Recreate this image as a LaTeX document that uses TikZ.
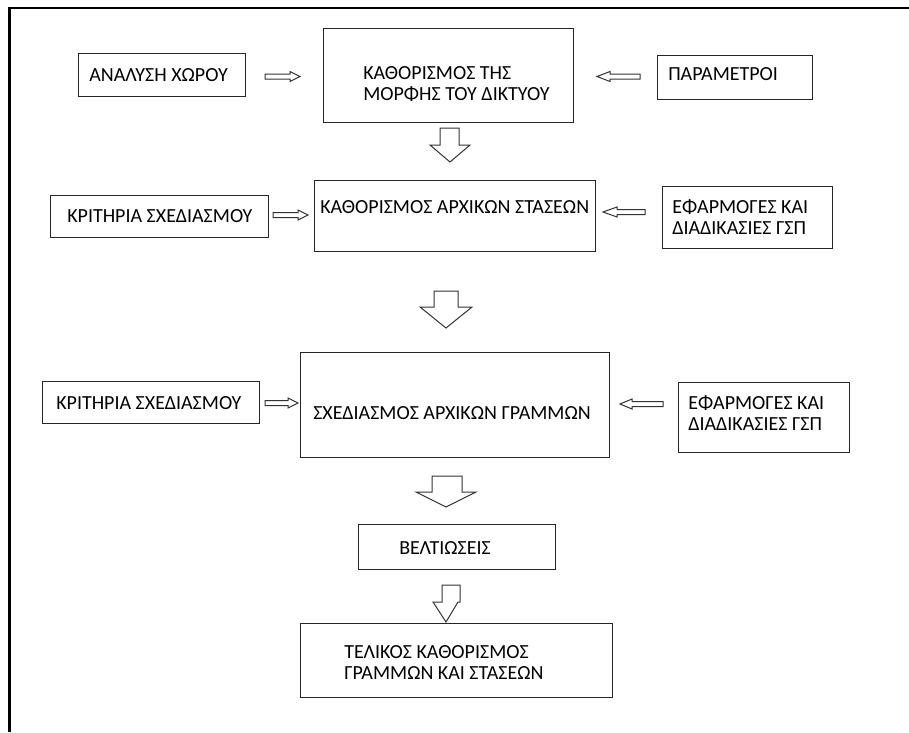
\documentclass[tikz,border=0pt]{standalone}
\usepackage{fontspec}
\setmainfont{Carlito}
\newcommand\hollowR[4]{% x start, x head, x tip, y
  \draw[harr] (#1,#4-2.5) -- (#2,#4-2.5) -- (#2,#4-5) -- (#3,#4) -- (#2,#4+5) -- (#2,#4+2.5) -- (#1,#4+2.5) -- cycle;}
\newcommand\hollowL[4]{% x start(right), x head, x tip(left), y
  \draw[harr] (#1,#4-2.5) -- (#2,#4-2.5) -- (#2,#4-5) -- (#3,#4) -- (#2,#4+5) -- (#2,#4+2.5) -- (#1,#4+2.5) -- cycle;}
\newcommand\hollowD[8]{% shaft left, shaft right, top, head base, head left, head right, tip x, tip y
  \draw[harr] (#1,#3) -- (#2,#3) -- (#2,#4) -- (#6,#4) -- (#7,#8) -- (#5,#4) -- (#1,#4) -- cycle;}
\begin{document}
\begin{tikzpicture}[x=0.75pt,y=-0.75pt,
  boxst/.style={draw=black!85, line width=0.8pt, inner sep=0pt, anchor=north west},
  txt/.style={inner sep=0pt, anchor=base west, align=left, font=\fontsize{15pt}{15.5pt}\selectfont},
  harr/.style={draw=black!80, line width=0.75pt, fill=white, line join=miter}]
\useasboundingbox (0,0) rectangle (909,732);
% frame
\draw[line width=1.6pt] (9.5,732) -- (9.5,8) -- (909,8);
% boxes
\node[boxst, minimum width=167*0.75pt, minimum height=43*0.75pt] (A) at (78,53) {};
\node[boxst, minimum width=250*0.75pt, minimum height=94*0.75pt] (B) at (323,28) {};
\node[boxst, minimum width=155*0.75pt, minimum height=44*0.75pt] (C) at (657,55) {};
\node[boxst, minimum width=218*0.75pt, minimum height=42*0.75pt] (D) at (50,195) {};
\node[boxst, minimum width=281*0.75pt, minimum height=71*0.75pt] (E) at (314,180) {};
\node[boxst, minimum width=170*0.75pt, minimum height=62*0.75pt] (F) at (662,186) {};
\node[boxst, minimum width=217*0.75pt, minimum height=42*0.75pt] (G) at (42,381) {};
\node[boxst, minimum width=309*0.75pt, minimum height=105*0.75pt] (H) at (300,352) {};
\node[boxst, minimum width=171*0.75pt, minimum height=70*0.75pt] (I) at (678,382) {};
\node[boxst, minimum width=197*0.75pt, minimum height=45*0.75pt] (J) at (358,524) {};
\node[boxst, minimum width=312*0.75pt, minimum height=74*0.75pt] (K) at (300,623) {};
% texts (two-line nodes: base = baseline of last line)
\node[txt] (tA) at (89,81) {ΑΝΑΛΥΣΗ ΧΩΡΟΥ};
\node[txt] (tB) at (363,100) {ΚΑΘΟΡΙΣΜΟΣ ΤΗΣ\\ΜΟΡΦΗΣ ΤΟΥ ΔΙΚΤΥΟΥ};
\node[txt] (tC) at (668,80) {ΠΑΡΑΜΕΤΡΟΙ};
\node[txt] (tD) at (67,222) {ΚΡΙΤΗΡΙΑ ΣΧΕΔΙΑΣΜΟΥ};
\node[txt] (tE) at (320,213) {ΚΑΘΟΡΙΣΜΟΣ ΑΡΧΙΚΩΝ ΣΤΑΣΕΩΝ};
\node[txt] (tF) at (672,234) {ΕΦΑΡΜΟΓΕΣ ΚΑΙ\\ΔΙΑΔΙΚΑΣΙΕΣ ΓΣΠ};
\node[txt] (tG) at (56,409) {ΚΡΙΤΗΡΙΑ ΣΧΕΔΙΑΣΜΟΥ};
\node[txt] (tH) at (313,419) {ΣΧΕΔΙΑΣΜΟΣ ΑΡΧΙΚΩΝ ΓΡΑΜΜΩΝ};
\node[txt] (tI) at (688,430) {ΕΦΑΡΜΟΓΕΣ ΚΑΙ\\ΔΙΑΔΙΚΑΣΙΕΣ ΓΣΠ};
\node[txt] (tJ) at (399,554) {ΒΕΛΤΙΩΣΕΙΣ};
\node[txt] (tK) at (344,679) {ΤΕΛΙΚΟΣ ΚΑΘΟΡΙΣΜΟΣ\\ΓΡΑΜΜΩΝ ΚΑΙ ΣΤΑΣΕΩΝ};
% horizontal hollow arrows
\hollowR{265}{290}{300}{76.5}
\hollowL{640}{610}{597}{76.5}
\hollowR{273}{298}{308}{215}
\hollowL{645}{617}{603}{212}
\hollowR{265}{288}{298}{403}
\hollowL{663}{632}{620}{404}
% vertical hollow arrows
\hollowD{440}{459}{128}{145}{430}{470}{450}{162}
\hollowD{434}{458}{291}{307}{420}{472}{446}{328}
\hollowD{432}{462}{476}{492}{416}{476}{446}{507}
\hollowD{442}{460}{585}{602}{433}{458}{446}{622}
\end{tikzpicture}
\end{document}
